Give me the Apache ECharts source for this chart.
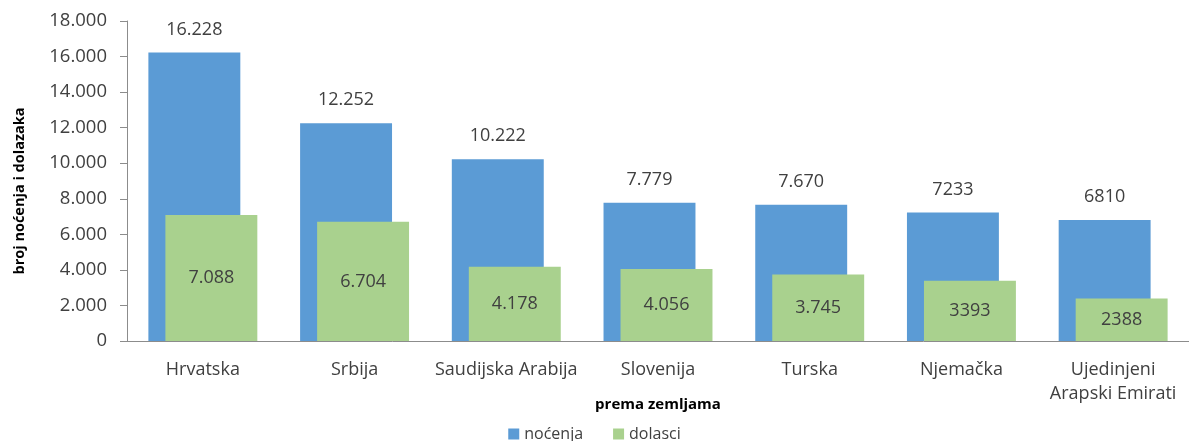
<!DOCTYPE html>
<html><head><meta charset="utf-8">
<script src="https://cdn.jsdelivr.net/npm/echarts@6/dist/echarts.min.js"></script>
<style>html,body{margin:0;padding:0;background:#fff}#c{width:1189px;height:441px}</style>
</head><body><div id="c"></div>
<script>
const categories = ['Hrvatska','Srbija','Saudijska Arabija','Slovenija','Turska','Njemačka','Ujedinjeni\nArapski Emirati'];
const nocenja = [16228,12252,10222,7779,7670,7233,6810];
const nocenjaLabels = ['16.228','12.252','10.222','7.779','7.670','7233','6810'];
const dolasci = [7088,6704,4178,4056,3745,3393,2388];
const dolasciLabels = ['7.088','6.704','4.178','4.056','3.745','3393','2388'];
const yTicks = ['0','2.000','4.000','6.000','8.000','10.000','12.000','14.000','16.000','18.000'];

const FONT = '"Open Sans", sans-serif';
const chart = echarts.init(document.getElementById('c'));
chart.setOption({
  animation:false,
  textStyle:{fontFamily:FONT},
  grid:{left:127,right:0,top:21,bottom:100,containLabel:false},
  legend:{
    top:421,left:'center',itemWidth:11,itemHeight:11,itemGap:30,icon:'rect',
    textStyle:{fontFamily:FONT,fontSize:16,color:'#404040'},
    data:['noćenja','dolasci']
  },
  xAxis:{
    type:'category',data:categories,
    name:'prema zemljama',nameLocation:'middle',nameGap:56,nameMoveOverlap:false,
    nameTextStyle:{fontFamily:FONT,fontSize:15,fontWeight:'bold',color:'#000'},
    axisLine:{lineStyle:{color:'#8c8c8c',width:1}},
    axisTick:{show:false},
    axisLabel:{fontFamily:FONT,fontSize:18,color:'#404040',margin:17,lineHeight:24,interval:0}
  },
  yAxis:{
    type:'value',min:0,max:18000,interval:2000,
    name:'broj noćenja i dolazaka',nameLocation:'middle',nameGap:100,nameMoveOverlap:false,
    nameTextStyle:{fontFamily:FONT,fontSize:14.5,fontWeight:'bold',color:'#000',padding:[0,20,0,0]},
    axisLine:{show:true,lineStyle:{color:'#8c8c8c',width:1}},
    axisTick:{show:true,length:7,lineStyle:{color:'#8c8c8c'}},
    splitLine:{show:false},
    axisLabel:{fontFamily:FONT,fontSize:18.5,color:'#404040',margin:20,
      formatter:function(v){return yTicks[Math.round(v/2000)];}}
  },
  series:[
    {name:'noćenja',type:'bar',data:nocenja,barWidth:'60.6%',barGap:'-81.5%',
     itemStyle:{color:'#5b9bd5'},
     label:{show:true,position:'top',distance:14,fontFamily:FONT,fontSize:18,color:'#404040',
       formatter:function(p){return nocenjaLabels[p.dataIndex];}}},
    {name:'dolasci',type:'bar',data:dolasci,barWidth:'60.6%',
     itemStyle:{color:'#a9d18e'},
     label:{show:true,position:'inside',fontFamily:FONT,fontSize:18,color:'#404040',
       formatter:function(p){return dolasciLabels[p.dataIndex];}}}
  ]
});
</script></body></html>
